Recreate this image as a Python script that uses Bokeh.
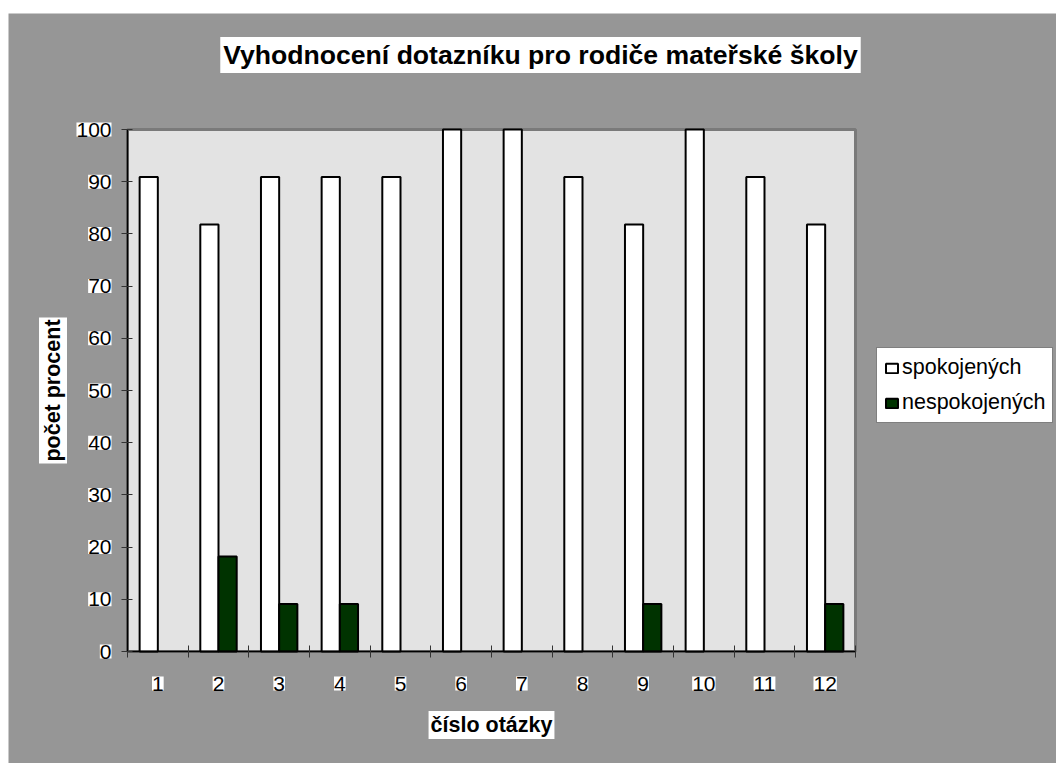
import math
from bokeh.plotting import figure
from bokeh.models import (Range1d, FixedTicker, Legend, LegendItem,
                          LabelSet, Label, ColumnDataSource)
from bokeh.core.properties import value
from bokeh.embed import file_html
from bokeh.resources import INLINE

# ---- data ----
questions = [1, 2, 3, 4, 5, 6, 7, 8, 9, 10, 11, 12]
spokojenych = [90.9, 81.8, 90.9, 90.9, 90.9, 100, 100, 90.9, 81.8, 100, 90.9, 81.8]
nespokojenych = [0, 18.2, 9.1, 9.1, 0, 0, 0, 0, 9.1, 0, 0, 9.1]
y_ticks = [0, 10, 20, 30, 40, 50, 60, 70, 80, 90, 100]
series_names = ["spokojených", "nespokojených"]
title_text = "Vyhodnocení dotazníku pro rodiče mateřské školy"
x_label = "číslo otázky"
y_label = "počet procent"

FONT = "Liberation Sans"
OUTER = "#969696"
INNER = "#e3e3e3"
GREEN = "#003300"

# ---- layout (canvas pixels) ----
W, H = 1048, 750
L, R, T, B = 119, 847, 116, 638          # plot-area box inside the canvas

x0 = questions[0] - 0.5
x_end = questions[-1] + 0.5
y0, y_top = y_ticks[0], y_ticks[-1]
ppx = (R - L) / (x_end - x0)
ppy = (B - T) / (y_top - y0)
xs = x0 - L / ppx
xe = x_end + (W - R) / ppx
ys = y0 - (H - B) / ppy
ye = y_top + T / ppy

p = figure(width=W, height=H, margin=(13, 0, 0, 8), title=None,
           output_backend="svg", toolbar_location=None,
           x_range=Range1d(xs, xe), y_range=Range1d(ys, ye),
           min_border=0)
p.border_fill_color = OUTER
p.background_fill_color = OUTER
p.outline_line_color = None
p.xgrid.visible = False
p.ygrid.visible = False

# plot area
p.quad(left=[x0], right=[x_end], bottom=[y0], top=[y_top],
       fill_color=INNER, line_color="#7a7a7a", line_width=3)

bw = 0.3
x1 = [q - bw / 2 for q in questions]
x2 = [q + bw / 2 for q in questions]
x2_nz = [x for x, v in zip(x2, nespokojenych) if v > 0]
v2_nz = [v for v in nespokojenych if v > 0]

r1 = p.vbar(x=x1, top=spokojenych, width=bw, fill_color="white",
            line_color="black", line_width=2)
r2 = p.vbar(x=x2_nz, top=v2_nz, width=bw, fill_color=GREEN,
            line_color="black", line_width=2)

# y axis
ya = p.yaxis[0]
ya.fixed_location = x0
ya.bounds = (y0, y_top)
ya.ticker = FixedTicker(ticks=y_ticks)
ya.axis_line_color = "black"
ya.axis_line_width = 1.5
ya.major_tick_in = 5
ya.major_tick_out = 6
ya.major_tick_line_color = "#333333"
ya.minor_tick_line_color = None
ya.major_label_text_color = None

# x axis: ticks at category boundaries
minor = [q - 0.5 for q in questions] + [questions[-1] + 0.5]
xa = p.xaxis[0]
xa.fixed_location = y0
xa.bounds = (x0, x_end)
xa.ticker = FixedTicker(ticks=questions, minor_ticks=minor)
xa.axis_line_color = "black"
xa.axis_line_width = 1.5
xa.major_tick_in = 0
xa.major_tick_out = 0
xa.major_tick_line_color = None
xa.minor_tick_in = 6
xa.minor_tick_out = 6
xa.minor_tick_line_color = "#333333"
xa.major_label_text_color = None

common = dict(text_font=value(FONT), text_font_size=value("21px"),
              text_color="black", background_fill_color="white")

# tick labels with white boxes
ysrc = ColumnDataSource(dict(x=[x0] * len(y_ticks), y=y_ticks,
                             t=[str(v) for v in y_ticks]))
p.add_layout(LabelSet(x="x", y="y", text="t", source=ysrc, x_offset=-16,
                      text_align="right", text_baseline="middle", **common))

xsrc = ColumnDataSource(dict(x=questions, y=[y0] * len(questions),
                             t=[str(q) for q in questions]))
p.add_layout(LabelSet(x="x", y="y", text="t", source=xsrc, y_offset=-25,
                      text_align="center", text_baseline="top", **common))

# axis titles
lab = dict(text_font=FONT, text_font_size="21.5px", text_font_style="bold",
           text_color="black", background_fill_color="white", padding=2)
p.add_layout(Label(x=x0, y=(y0 + y_top) / 2, text=y_label, x_offset=-74.5,
                   angle=math.pi / 2, text_align="center",
                   text_baseline="middle", **lab))
p.add_layout(Label(x=(x0 + x_end) / 2, y=y0, text=x_label, y_offset=-73.5,
                   text_align="center", text_baseline="middle", **lab))

# chart title
p.add_layout(Label(x=xs + 532 / ppx, y=ye - 41.5 / ppy, text=title_text,
                   text_align="center", text_baseline="middle",
                   text_font=FONT, text_font_size="26.6px", text_font_style="bold",
                   text_color="black", background_fill_color="white",
                   padding=3))

legend = Legend(items=[LegendItem(label=series_names[0], renderers=[r1]),
                       LegendItem(label=series_names[1], renderers=[r2])],
                location=(868, 340), padding=7, spacing=10,
                label_height=22, glyph_width=15, glyph_height=12,
                label_standoff=3, label_text_font=FONT,
                label_text_font_size="21.5px", label_text_color="black",
                border_line_color="black", border_line_width=1,
                background_fill_color="white", background_fill_alpha=1)
p.add_layout(legend)

open("out.html", "w").write(file_html(p, INLINE))
